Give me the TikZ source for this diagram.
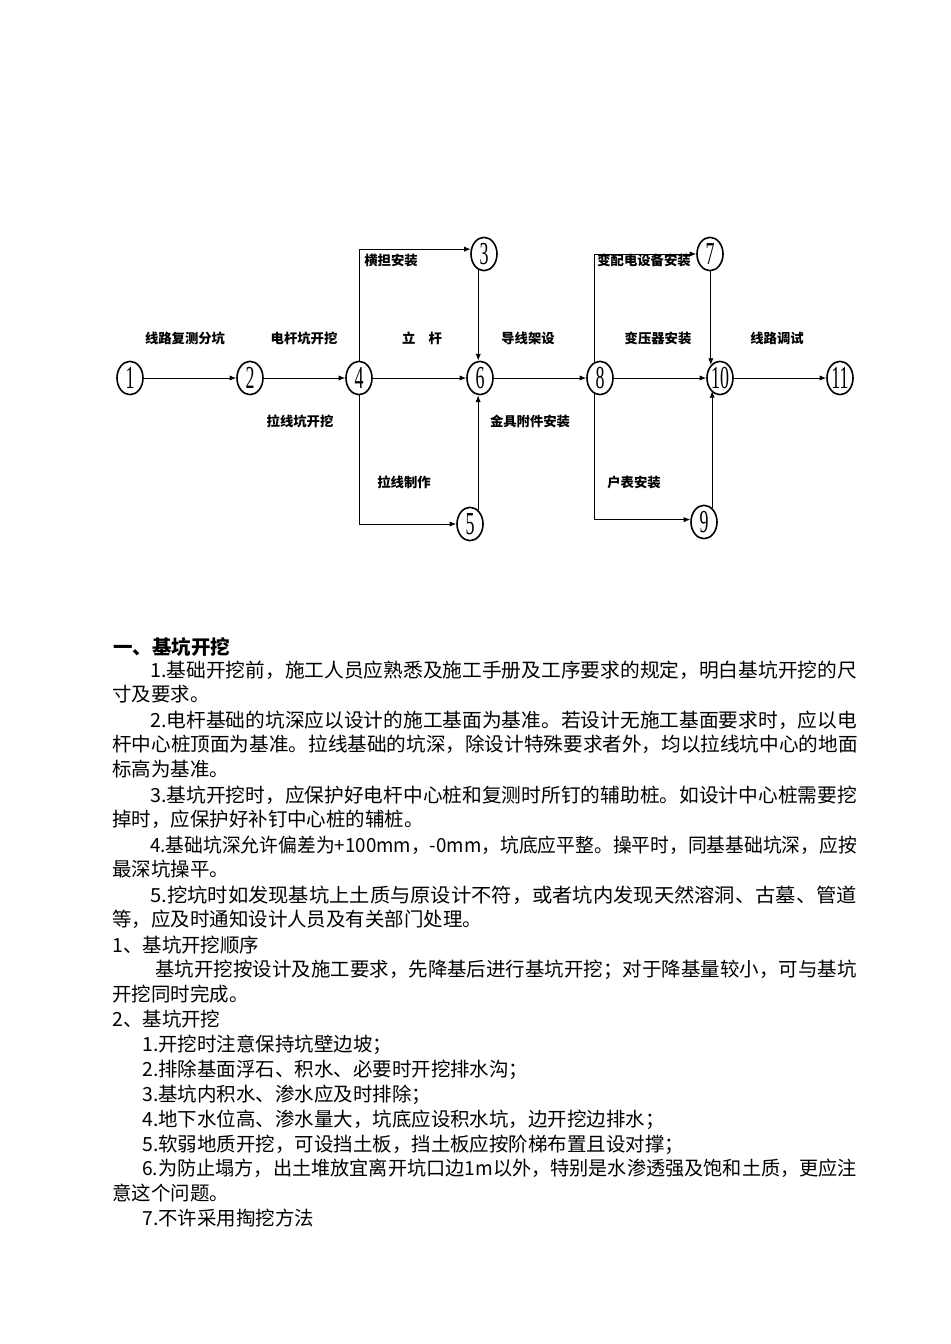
\documentclass[tikz,border=0pt]{standalone}
\usepackage{fontspec}
\usepackage{graphicx}
\setmainfont{Noto Sans CJK SC}
\newfontfamily\numfont{Liberation Serif}
\usetikzlibrary{shapes.geometric,arrows.meta}
\newcommand{\cnum}[1]{\scalebox{0.56}[1]{\numfont\fontsize{24pt}{24pt}\selectfont #1}}
\newcommand{\fline}[2]{\resizebox{#1}{\height}{#2}}

\begin{document}
\begin{tikzpicture}[x=0.75pt,y=-0.75pt,
  evt/.style={ellipse,draw,line width=1.2pt,minimum width=19.5pt,minimum height=25pt,inner sep=0pt},
  arr/.style={-{Latex[length=5pt,width=4pt]},line width=0.7pt},
  lbl/.style={font=\fontsize{10pt}{12pt}\selectfont\bfseries},
  txt/.style={anchor=base west,inner sep=0pt,font=\fontsize{14.6pt}{16pt}\selectfont}]
\useasboundingbox (0,0) rectangle (950,1344);

\begin{scope}[every node/.style={evt}]
\node (n1) at (130,378) {\cnum{1}};
\node (n2) at (250,378) {\cnum{2}};
\node (n3) at (484,254) {\cnum{3}};
\node (n4) at (359,378) {\cnum{4}};
\node (n5) at (470,524) {\cnum{5}};
\node (n6) at (480,378) {\cnum{6}};
\node (n7) at (710,254) {\cnum{7}};
\node (n8) at (600,378) {\cnum{8}};
\node (n9) at (704,522) {\cnum{9}};
\node (n10) at (720,378) {\cnum{10}};
\node (n11) at (840,378) {\cnum{11}};
\end{scope}

\begin{scope}[every path/.style={arr}]
\draw (n1) -- (n2);
\draw (n2) -- (n4);
\draw (n4) -- (n6);
\draw (n6) -- (n8);
\draw (n8) -- (n10);
\draw (n10) -- (n11);
\draw (n4.north) |- (n3.160);
\draw (n3.250) -- (n3.250 |- n6.north);
\draw (n4.south) |- (n5.west);
\draw (n5.60) -- (n5.60 |- n6.south);
\draw (n8.110) |- (n7.west);
\draw (n10.125 |- n7.south) -- (n10.125);
\draw (n8.250) |- (n9.170);
\draw (n9.60) -- (n9.60 |- n10.235);
\end{scope}

\begin{scope}[every node/.style={lbl}]
\node (a12) at (185,338) {线路复测分坑};
\node (a24) at (304,338) {电杆坑开挖};
\node (a46) at (422,338) {立\quad 杆};
\node (a68) at (528,338) {导线架设};
\node (a810) at (658,338) {变压器安装};
\node (a1011) at (777,338) {线路调试};
\node (a43) at (391,260) {横担安装};
\node (a45) at (300,421) {拉线坑开挖};
\node (a56) at (404,482) {拉线制作};
\node (a36) at (530,421) {金具附件安装};
\node (a87) at (644,260) {变配电设备安装};
\node (a89) at (634,482) {户表安装};
\end{scope}

\begin{scope}[every node/.style={txt}]
\node[font=\fontsize{14.6pt}{16pt}\selectfont\bfseries] (h1) at (113,654) {一、基坑开挖};
\node (t1) at (150,677) {\fline{530pt}{1.基础开挖前，施工人员应熟悉及施工手册及工序要求的规定，明白基坑开挖的尺}};
\node (t2) at (112,701) {寸及要求。};
\node (t3) at (150,727) {\fline{530pt}{2.电杆基础的坑深应以设计的施工基面为基准。若设计无施工基面要求时，应以电}};
\node (t4) at (112,751) {\fline{559pt}{杆中心桩顶面为基准。拉线基础的坑深，除设计特殊要求者外，均以拉线坑中心的地面}};
\node (t5) at (112,776) {标高为基准。};
\node (t6) at (150,802) {\fline{530pt}{3.基坑开挖时，应保护好电杆中心桩和复测时所钉的辅助桩。如设计中心桩需要挖}};
\node (t7) at (112,826) {掉时，应保护好补钉中心桩的辅桩。};
\node (t8) at (150,852) {\fline{530pt}{4.基础坑深允许偏差为+100mm，-0mm，坑底应平整。操平时，同基基础坑深，应按}};
\node (t9) at (112,876) {最深坑操平。};
\node (t10) at (150,902) {\fline{530pt}{5.挖坑时如发现基坑上土质与原设计不符，或者坑内发现天然溶洞、古墓、管道}};
\node (t11) at (112,926) {等，应及时通知设计人员及有关部门处理。};
\node (t12) at (112,952) {1、基坑开挖顺序};
\node (t13) at (155,976) {\fline{526pt}{基坑开挖按设计及施工要求，先降基后进行基坑开挖；对于降基量较小，可与基坑}};
\node (t14) at (112,1001) {开挖同时完成。};
\node (t15) at (112,1026) {2、基坑开挖};
\node (t16) at (142,1051) {1.开挖时注意保持坑壁边坡；};
\node (t17) at (142,1076) {2.排除基面浮石、积水、必要时开挖排水沟；};
\node (t18) at (142,1101) {3.基坑内积水、渗水应及时排除；};
\node (t19) at (142,1126) {4.地下水位高、渗水量大，坑底应设积水坑，边开挖边排水；};
\node (t20) at (142,1151) {5.软弱地质开挖，可设挡土板，挡土板应按阶梯布置且设对撑；};
\node (t21) at (142,1175) {\fline{536pt}{6.为防止塌方，出土堆放宜离开坑口边1m以外，特别是水渗透强及饱和土质，更应注}};
\node (t22) at (112,1200) {意这个问题。};
\node (t23) at (142,1225) {7.不许采用掏挖方法};
\end{scope}
\end{tikzpicture}
\end{document}
